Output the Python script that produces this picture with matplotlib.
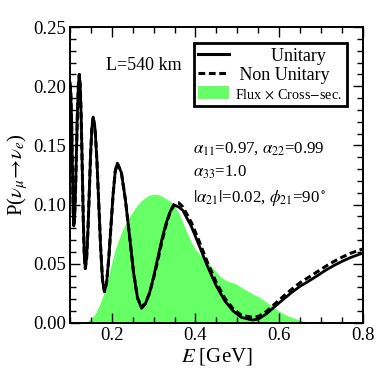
import matplotlib
matplotlib.use("Agg")
import matplotlib.pyplot as plt
from matplotlib.ticker import MultipleLocator
from matplotlib.patches import Patch
from matplotlib.lines import Line2D

plt.rcParams['font.family'] = 'serif'
plt.rcParams['font.serif'] = ['Liberation Serif', 'DejaVu Serif']
plt.rcParams['mathtext.fontset'] = 'stix'

# energies (GeV) shared by both probability curves
energy = [0.100, 0.102, 0.104, 0.106, 0.108, 0.1092, 0.1112, 0.1135, 0.1157, 0.1179,
          0.1202, 0.1224, 0.1248, 0.1272, 0.1296, 0.1319, 0.1343, 0.1367, 0.1399, 0.1430,
          0.1462, 0.1493, 0.1525, 0.1556, 0.1601, 0.1645, 0.1690, 0.1735, 0.1779, 0.1824,
          0.1876, 0.1927, 0.1979, 0.2030, 0.2082, 0.2133, 0.2230, 0.2326, 0.2423, 0.2519,
          0.2616, 0.2712, 0.280, 0.290, 0.300, 0.310, 0.320, 0.330, 0.340, 0.350,
          0.360, 0.370, 0.390, 0.410, 0.430, 0.450, 0.470, 0.490, 0.510, 0.536,
          0.550, 0.570, 0.590, 0.610, 0.630, 0.650, 0.670, 0.690, 0.710, 0.730,
          0.750, 0.770, 0.790, 0.800]

p_unitary = [0.203, 0.195, 0.170, 0.130, 0.093, 0.082, 0.090, 0.114, 0.146, 0.178,
             0.201, 0.210, 0.199, 0.169, 0.128, 0.087, 0.057, 0.046, 0.055, 0.078,
             0.110, 0.142, 0.165, 0.174, 0.164, 0.137, 0.100, 0.063, 0.036, 0.0265,
             0.034, 0.054, 0.081, 0.108, 0.128, 0.135, 0.127, 0.104, 0.074, 0.043,
             0.021, 0.0124, 0.016, 0.025, 0.039, 0.055, 0.071, 0.0845, 0.0945, 0.0995,
             0.098, 0.095, 0.0817, 0.0644, 0.0468, 0.0312, 0.0188, 0.0101, 0.0047, 0.0025,
             0.0032, 0.0078, 0.0140, 0.0200, 0.0258, 0.0310, 0.0352, 0.0397, 0.0443, 0.0484,
             0.0520, 0.0552, 0.0578, 0.0590]

p_nonunitary = [0.203, 0.195, 0.170, 0.130, 0.093, 0.082, 0.090, 0.114, 0.146, 0.178,
                0.201, 0.210, 0.199, 0.169, 0.128, 0.087, 0.057, 0.046, 0.055, 0.078,
                0.110, 0.142, 0.165, 0.174, 0.164, 0.137, 0.100, 0.063, 0.036, 0.0265,
                0.034, 0.054, 0.081, 0.108, 0.128, 0.135, 0.127, 0.104, 0.074, 0.043,
                0.021, 0.0135, 0.0165, 0.025, 0.038, 0.053, 0.069, 0.083, 0.0945, 0.101,
                0.1015, 0.098, 0.085, 0.068, 0.050, 0.034, 0.021, 0.012, 0.0065, 0.0048,
                0.0055, 0.0098, 0.0162, 0.0225, 0.0285, 0.0340, 0.0385, 0.0430, 0.0476, 0.0518,
                0.0555, 0.0588, 0.0614, 0.0625]

# flux x cross-section (arbitrary scale, as drawn)
flux_energy = [0.12, 0.13, 0.14, 0.15, 0.16, 0.17, 0.18, 0.19, 0.20, 0.21,
               0.22, 0.23, 0.24, 0.25, 0.26, 0.27, 0.28, 0.29, 0.30, 0.31,
               0.32, 0.33, 0.34, 0.35, 0.36, 0.37, 0.38, 0.39, 0.40, 0.41,
               0.42, 0.43, 0.44, 0.45, 0.46, 0.47, 0.48, 0.49, 0.50, 0.51,
               0.52, 0.53, 0.54, 0.55, 0.56, 0.57, 0.58, 0.59, 0.60, 0.61,
               0.62, 0.63, 0.64, 0.65, 0.66, 0.67, 0.68, 0.69]
flux_xsec = [0.0, 0.0005, 0.0012, 0.0035, 0.0075, 0.0145, 0.024, 0.037, 0.051, 0.064,
             0.0735, 0.082, 0.0885, 0.094, 0.099, 0.103, 0.106, 0.108, 0.1088, 0.1085,
             0.107, 0.105, 0.1025, 0.0985, 0.093, 0.085, 0.076, 0.068, 0.062, 0.058,
             0.055, 0.051, 0.047, 0.043, 0.039, 0.0365, 0.035, 0.034, 0.0325, 0.030,
             0.028, 0.026, 0.024, 0.0222, 0.020, 0.0175, 0.015, 0.0125, 0.010, 0.0078,
             0.0062, 0.0048, 0.0035, 0.0023, 0.0014, 0.0008, 0.0003, 0.0]

green = '#66FF66'

fig = plt.figure(figsize=(3.76, 3.76), dpi=100)
ax = fig.add_axes([0.186, 0.141, 0.779, 0.787])

ax.fill_between(flux_energy, 0, flux_xsec, color=green, lw=0)
ax.plot(energy, p_nonunitary, color='black', lw=2.2, ls=(0, (2.2, 1.2)))
ax.plot(energy, p_unitary, color='black', lw=2.0)

ax.set_xlim(0.1, 0.8)
ax.set_ylim(0, 0.25)
ax.xaxis.set_major_locator(MultipleLocator(0.2))
ax.xaxis.set_minor_locator(MultipleLocator(0.05))
ax.yaxis.set_major_locator(MultipleLocator(0.05))
ax.yaxis.set_minor_locator(MultipleLocator(0.01))
ax.xaxis.set_major_formatter(lambda v, pos: f"{v:.1f}")
ax.yaxis.set_major_formatter(lambda v, pos: f"{v:.2f}")
ax.tick_params(which='both', direction='in', top=True, right=True, labelsize=13.5, width=1.0)
ax.tick_params(which='major', length=7, pad=3)
ax.tick_params(which='minor', length=4)
for s in ax.spines.values():
    s.set_linewidth(1.4)

ax.set_xlabel('$E$ [GeV]', fontsize=15, labelpad=1)
ax.set_ylabel(r'P($\nu_\mu\!\rightarrow\!\nu_e$)', fontsize=15, labelpad=2)

ax.text(0.122, 0.855, 'L=540 km', transform=ax.transAxes, fontsize=13)
ax.text(0.42, 0.577, r'$\alpha_{11}$=0.97, $\alpha_{22}$=0.99', transform=ax.transAxes, fontsize=12.2)
ax.text(0.42, 0.493, r'$\alpha_{33}$=1.0', transform=ax.transAxes, fontsize=12.2)
ax.text(0.42, 0.408, r'$|\alpha_{21}|$=0.02, $\phi_{21}$=90$^\circ$', transform=ax.transAxes, fontsize=12.2)

handles = [Line2D([], [], color='black', lw=2.2),
           Line2D([], [], color='black', lw=2.2, ls=(0, (2.2, 1.2))),
           Patch(facecolor=green, edgecolor='none')]
labels = ['        Unitary', ' Non Unitary', r'Flux$\,\times\,$Cross$-$sec.']
leg = ax.legend(handles, labels, loc='upper right', bbox_to_anchor=(0.945, 0.946),
                borderaxespad=0, fancybox=False, framealpha=1, edgecolor='black',
                fontsize=13, handlelength=1.7, handletextpad=0.35, labelspacing=0.12,
                borderpad=0.25)
leg.get_frame().set_linewidth(2.0)
leg.get_texts()[2].set_fontsize(10.2)

fig.savefig('out.png', dpi=100)
